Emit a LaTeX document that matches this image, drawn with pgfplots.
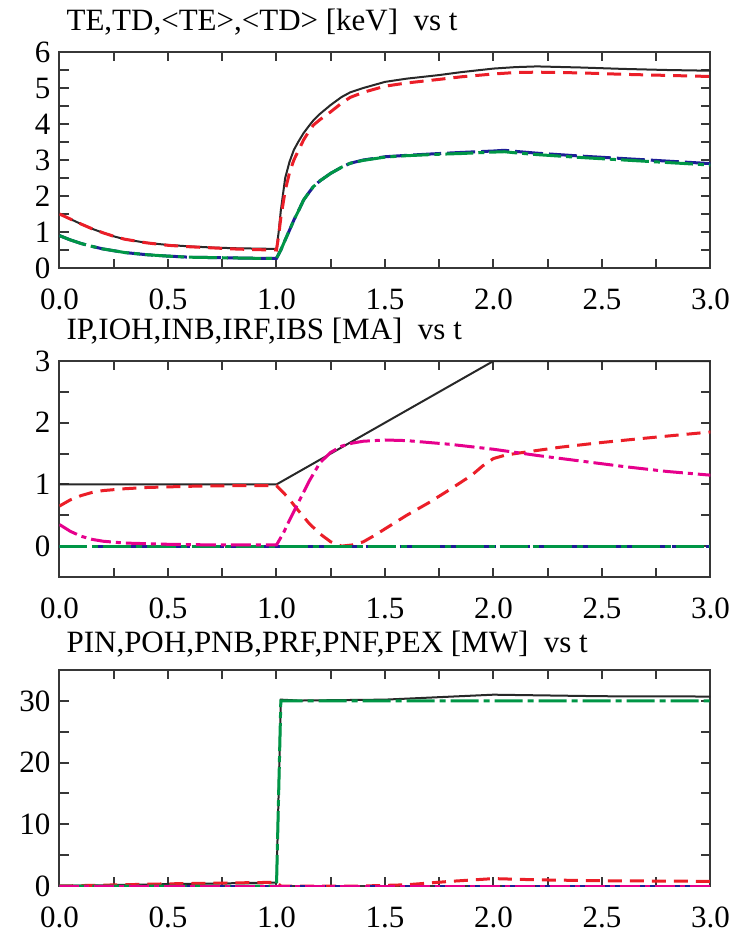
\documentclass[border=0pt]{standalone}
\usepackage{fontspec}
\setmainfont{Liberation Serif}
\usepackage{pgfplots}
\pgfplotsset{compat=1.18}

\definecolor{cblk}{RGB}{40,40,40}
\definecolor{cred}{RGB}{235,30,40}
\definecolor{cgrn}{RGB}{0,150,70}
\definecolor{cblu}{RGB}{30,30,150}
\definecolor{cmag}{RGB}{230,0,140}
\definecolor{cfrm}{RGB}{55,55,55}

\pgfplotsset{
  panel/.style={
    width=325.5pt, height=108pt, scale only axis,
    xmin=0, xmax=3,
    xtick={0,0.5,1,1.5,2,2.5,3},
    xticklabels={0.0,0.5,1.0,1.5,2.0,2.5,3.0},
    minor x tick num=1,
    tick align=inside, tick pos=both,
    major tick length=4.5pt, minor tick length=4.5pt,
    every tick/.style={cfrm, line width=1pt},
    axis line style={cfrm, line width=1pt},
    tick label style={font=\fontsize{15.5}{18}\selectfont},
    xticklabel shift=7pt,
    yticklabel shift=1pt,
    /pgf/number format/assume math mode=true,
    title style={at={(0,1)}, anchor=base west, yshift=5pt,
      font=\fontsize{15.5}{18}\selectfont},
    anchor=south west,
  },
  lblk/.style={cblk, line width=1pt},
  lred/.style={cred, line width=1.5pt, dash pattern=on 7pt off 4pt},
  lblu/.style={cblu, line width=1.5pt, dash pattern=on 14pt off 3pt},
  lgrn/.style={cgrn, line width=1.5pt, dash pattern=on 14pt off 2.5pt on 3pt off 2.5pt},
  lmag/.style={cmag, line width=1.5pt, dash pattern=on 10pt off 2.5pt on 2.5pt off 2.5pt},
}

\begin{document}
\begin{tikzpicture}
\path[use as bounding box] (0,0) rectangle (365.5pt,467pt);

% panel 1: temperatures
\begin{axis}[panel, at={(29.75pt,333pt)},
  ymin=0, ymax=6, ytick={0,1,2,3,4,5,6}, minor y tick num=1,
  title={TE,TD,<TE>,<TD> [keV]~ vs t}]
\addplot[lblk] coordinates {
 (0,1.50) (0.05,1.36) (0.1,1.22) (0.15,1.09) (0.2,0.98) (0.25,0.88) (0.3,0.80)
 (0.4,0.70) (0.5,0.64) (0.6,0.60) (0.7,0.57) (0.8,0.55) (0.9,0.54) (1.0,0.53)
 (1.01,1.0) (1.02,1.6) (1.04,2.5) (1.06,2.95) (1.08,3.28) (1.1,3.5) (1.125,3.75)
 (1.15,3.95) (1.17,4.1) (1.2,4.28) (1.25,4.53) (1.3,4.75) (1.34,4.88) (1.4,5.0)
 (1.5,5.17) (1.6,5.26) (1.75,5.36) (1.85,5.44) (2.0,5.54) (2.1,5.58) (2.2,5.6)
 (2.4,5.57) (2.6,5.53) (2.8,5.5) (3.0,5.48)};
\addplot[lred] coordinates {
 (0,1.50) (0.05,1.36) (0.1,1.22) (0.15,1.09) (0.2,0.98) (0.25,0.88) (0.3,0.80)
 (0.4,0.70) (0.5,0.63) (0.6,0.59) (0.7,0.56) (0.8,0.53) (0.9,0.51) (1.0,0.50)
 (1.01,0.9) (1.02,1.4) (1.04,2.15) (1.06,2.65) (1.08,3.0) (1.1,3.25) (1.125,3.56)
 (1.15,3.8) (1.17,3.97) (1.2,4.12) (1.25,4.34) (1.3,4.58) (1.34,4.74) (1.4,4.88)
 (1.5,5.05) (1.6,5.14) (1.75,5.24) (1.85,5.31) (2.0,5.39) (2.1,5.43) (2.2,5.44)
 (2.4,5.42) (2.6,5.38) (2.8,5.35) (3.0,5.32)};
\addplot[lblu] coordinates {
 (0,0.9) (0.05,0.78) (0.1,0.68) (0.15,0.6) (0.2,0.53) (0.25,0.48) (0.3,0.43)
 (0.4,0.37) (0.5,0.33) (0.6,0.3) (0.7,0.29) (0.8,0.28) (0.9,0.27) (1.0,0.27)
 (1.02,0.5) (1.04,0.78) (1.06,1.05) (1.08,1.33) (1.1,1.57) (1.125,1.89) (1.15,2.1)
 (1.17,2.26) (1.2,2.42) (1.25,2.63) (1.3,2.8) (1.34,2.91) (1.4,3.0) (1.5,3.09)
 (1.6,3.13) (1.75,3.18) (1.85,3.21) (2.0,3.25) (2.05,3.27) (2.1,3.24) (2.2,3.19)
 (2.4,3.11) (2.6,3.04) (2.8,2.97) (3.0,2.9)};
\addplot[lgrn] coordinates {
 (0,0.9) (0.05,0.78) (0.1,0.68) (0.15,0.6) (0.2,0.53) (0.25,0.48) (0.3,0.43)
 (0.4,0.37) (0.5,0.33) (0.6,0.3) (0.7,0.29) (0.8,0.28) (0.9,0.27) (1.0,0.27)
 (1.02,0.5) (1.04,0.78) (1.06,1.05) (1.08,1.33) (1.1,1.57) (1.125,1.89) (1.15,2.1)
 (1.17,2.26) (1.2,2.42) (1.25,2.63) (1.3,2.8) (1.34,2.91) (1.4,2.99) (1.5,3.08)
 (1.6,3.12) (1.75,3.16) (1.85,3.18) (2.0,3.22) (2.05,3.23) (2.1,3.2) (2.2,3.15)
 (2.4,3.07) (2.6,3.0) (2.8,2.93) (3.0,2.86)};
\end{axis}

% panel 2: currents
\begin{axis}[panel, at={(29.75pt,178.5pt)},
  ymin=-0.5, ymax=3, ytick={0,1,2,3}, minor ytick={-0.5,0.5,1.5,2.5},
  title={IP,IOH,INB,IRF,IBS [MA]~ vs t}]
\addplot[lblk] coordinates {(0,1) (1,1) (2,3) (3,3)};
\addplot[lred] coordinates {
 (0,0.65) (0.05,0.75) (0.1,0.82) (0.15,0.87) (0.2,0.9) (0.3,0.93) (0.4,0.95)
 (0.5,0.96) (0.6,0.97) (0.8,0.98) (1.0,0.98) (1.05,0.8) (1.1,0.58) (1.15,0.37)
 (1.2,0.2) (1.25,0.07) (1.3,0.0) (1.35,0.02) (1.4,0.07) (1.45,0.17) (1.5,0.28)
 (1.6,0.5) (1.7,0.7) (1.8,0.92) (1.9,1.15) (1.95,1.3) (2.0,1.42) (2.05,1.47)
 (2.1,1.5) (2.3,1.6) (2.5,1.68) (2.7,1.75) (3.0,1.85)};
\addplot[lblu] coordinates {(0,0) (3,0)};
\addplot[lgrn] coordinates {(0,0) (3,0)};
\addplot[lmag] coordinates {
 (0,0.35) (0.05,0.24) (0.1,0.16) (0.15,0.11) (0.2,0.08) (0.3,0.05) (0.4,0.04)
 (0.5,0.03) (0.7,0.02) (1.0,0.02) (1.03,0.2) (1.06,0.42) (1.1,0.7) (1.15,1.05)
 (1.2,1.35) (1.25,1.52) (1.3,1.62) (1.35,1.67) (1.4,1.7) (1.5,1.72) (1.6,1.71)
 (1.7,1.68) (1.8,1.65) (1.9,1.61) (2.0,1.57) (2.1,1.52) (2.2,1.47) (2.4,1.38)
 (2.6,1.29) (2.8,1.21) (3.0,1.15)};
\end{axis}

% panel 3: powers
\begin{axis}[panel, at={(29.75pt,24pt)},
  ymin=0, ymax=35, ytick={0,10,20,30}, minor ytick={5,15,25,35},
  title style={yshift=-2pt},
  title={PIN,POH,PNB,PRF,PNF,PEX [MW]~ vs t}]
\addplot[lblk] coordinates {
 (0,0) (0.5,0.3) (1.0,0.55) (1.02,30.2) (1.1,30.05) (1.5,30.2) (2.0,31.0)
 (2.5,30.75) (3.0,30.7)};
\addplot[lred] coordinates {
 (0,0) (0.5,0.35) (1.0,0.6) (1.02,0) (1.4,0) (1.6,0.2) (1.8,0.75) (2.0,1.2)
 (2.2,1.0) (2.5,0.85) (3.0,0.75)};
\addplot[lblu] coordinates {(0,0) (3,0)};
\addplot[lgrn] coordinates {(0,0) (1.0,0) (1.02,30) (3,30)};
\addplot[lmag] coordinates {(0,0) (3,0)};
\end{axis}
\end{tikzpicture}
\end{document}
